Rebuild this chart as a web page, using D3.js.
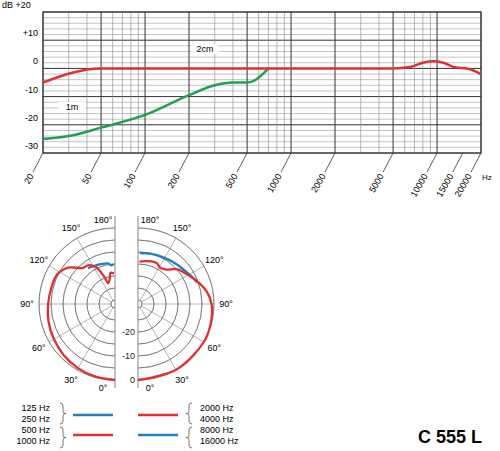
<!DOCTYPE html>
<html><head><meta charset="utf-8">
<script src="https://cdn.jsdelivr.net/npm/d3@7"></script>
<style>body{margin:0;background:#fff}svg{font-family:"Liberation Sans",Arial,sans-serif}</style>
</head><body>
<script>
// Frequency response data
const freqTicks = [20, 50, 100, 200, 500, 1000, 2000, 5000, 10000, 15000, 20000];
const dbTicks = [20, 10, 0, -10, -20, -30];
const near2cm = [[20, -5], [50, 0], [5000, 0], [6500, 0.5], [8000, 2], [9500, 2.5], [11000, 2], [13500, 0.3], [16000, 0], [20000, -2]];
const far1m = [[20, -25], [30, -24], [50, -21], [100, -16.5], [200, -9.5], [300, -6], [400, -5], [500, -5], [560, -4.3], [700, 0]];

// Polar data: [angle deg, dB]
const leftRed = [[0, 0], [15, -0.3], [30, -0.8], [45, -1.5], [60, -2.3], [75, -3], [90, -3.8], [105, -4.3], [117, -4.6], [128, -7], [138, -11.5], [145, -12], [152, -14], [158, -19], [162, -22.5], [168, -21], [172, -18.5], [178, -19]];
const leftBlue = [[143, -13], [150, -13.5], [160, -14], [170, -14.5], [175, -15.5], [178, -15]];
const rightRed = [[0, 0], [30, 0], [60, 0], [75, -0.3], [90, -1], [100, -2.5], [110, -5], [120, -7.5], [132, -10], [140, -13], [148, -14], [155, -13], [162, -13], [170, -13.5], [178, -14]];
const rightBlue = [[110, -5.4], [120, -7], [135, -8.5], [150, -9.5], [165, -10], [178, -10.4]];
const angleLabels = [0, 30, 60, 90, 120, 150, 180];
const ringLabels = [0, -10, -20];

const RED = "#e03030", GREEN = "#20a050", BLUE = "#2080c0";
const svg = d3.select("body").append("svg").attr("width", 500).attr("height", 451);

// ---- Frequency response ----
const x = d3.scaleLog().domain([20, 20000]).range([43, 481]);
const y = d3.scaleLinear().domain([-30, 20]).range([153, 12]);
const g = svg.append("g");

d3.range(-30, 21, 2).forEach(v => {
  g.append("line").attr("x1", 43).attr("x2", 481).attr("y1", y(v)).attr("y2", y(v))
    .attr("stroke", v % 10 === 0 ? "#333" : "#888").attr("stroke-width", v % 10 === 0 ? 1 : 0.5);
});
const minor = [];
[10, 100, 1000, 10000].forEach(d => d3.range(1, 10).forEach(k => { const f = k * d; if (f >= 20 && f <= 20000) minor.push(f); }));
minor.forEach(f => {
  const major = freqTicks.includes(f);
  g.append("line").attr("x1", x(f)).attr("x2", x(f)).attr("y1", 12).attr("y2", 153)
    .attr("stroke", major ? "#333" : "#888").attr("stroke-width", major ? 1 : 0.6);
});
g.append("rect").attr("x", 43).attr("y", 12).attr("width", 438).attr("height", 141)
  .attr("fill", "none").attr("stroke", "#333");

dbTicks.forEach(v => {
  if (v === 20) return;
  g.append("text").attr("x", 38).attr("y", y(v) - 4).attr("text-anchor", "end")
    .attr("font-size", 9).text(v > 0 ? "+" + v : v);
});
g.append("text").attr("x", 2).attr("y", 8).attr("font-size", 9).text("dB  +20");

freqTicks.forEach(f => {
  const px = x(f);
  g.append("line").attr("x1", px).attr("y1", 153).attr("x2", px - 10).attr("y2", 172)
    .attr("stroke", "#333").attr("stroke-width", 0.8);
  g.append("text").attr("transform", `translate(${px - 9},${176}) rotate(-60)`)
    .attr("text-anchor", "end").attr("font-size", 9).text(f);
});
g.append("text").attr("x", 482).attr("y", 180).attr("font-size", 8).text("Hz");

const fline = d3.line().x(d => x(d[0])).y(d => y(d[1])).curve(d3.curveMonotoneX);
g.append("path").datum(far1m).attr("d", fline).attr("fill", "none").attr("stroke", GREEN).attr("stroke-width", 2.5);
g.append("path").datum(near2cm).attr("d", fline).attr("fill", "none").attr("stroke", RED).attr("stroke-width", 2.5);

[["2cm", 205, 52], ["1m", 72, 110]].forEach(([t, tx, ty]) => {
  g.append("rect").attr("x", tx - 14).attr("y", ty - 8).attr("width", 28).attr("height", 10).attr("fill", "#fff");
  g.append("text").attr("x", tx).attr("y", ty).attr("text-anchor", "middle").attr("font-size", 9).text(t);
});

// ---- Polar ----
const cy = 304;
const r = d3.scaleLinear().domain([-30, 0]).range([4, 76]);
function half(cx, side, curves) {
  const p = svg.append("g").attr("transform", `translate(${cx},${cy})`);
  const ang = deg => side < 0 ? Math.PI + deg * Math.PI / 180 : Math.PI - deg * Math.PI / 180;
  const arc = d3.arc().startAngle(side < 0 ? Math.PI : 0).endAngle(side < 0 ? 2 * Math.PI : Math.PI);
  d3.range(-30, 1, 5).forEach(v => {
    p.append("path").attr("d", arc({ innerRadius: r(v), outerRadius: r(v) }))
      .attr("fill", "none").attr("stroke", "#555").attr("stroke-width", 0.5);
  });
  d3.range(30, 151, 30).forEach(a => {
    const t = ang(a);
    p.append("line").attr("x1", Math.sin(t) * r(-30)).attr("y1", -Math.cos(t) * r(-30))
      .attr("x2", Math.sin(t) * r(0)).attr("y2", -Math.cos(t) * r(0))
      .attr("stroke", "#666").attr("stroke-width", 0.5);
  });
  p.append("line").attr("x1", 0).attr("x2", 0).attr("y1", -88).attr("y2", 84).attr("stroke", "#999").attr("stroke-width", 1.2);
  angleLabels.forEach(a => {
    const t = ang(a), rr = a === 0 || a === 180 ? 84 : 88;
    let lx = Math.sin(t) * rr, ly = -Math.cos(t) * rr + 3;
    if (a === 0 || a === 180) lx = side * 12;
    if (a === 180) ly = -81;
    if (a === 0) ly = 87;
    p.append("text").attr("x", lx).attr("y", ly).attr("text-anchor", "middle").attr("font-size", 9).text(a + "°");
  });
  curves.forEach(([data, color]) => {
    const lr = d3.lineRadial().angle(d => ang(d[0])).radius(d => r(d[1])).curve(d3.curveCatmullRom);
    p.append("path").datum(data).attr("d", lr).attr("fill", "none").attr("stroke", color).attr("stroke-width", 2.3);
  });
  return p;
}
half(115, -1, [[leftBlue, BLUE], [leftRed, RED]]);
const rp = half(138, 1, [[rightBlue, BLUE], [rightRed, RED]]);
ringLabels.forEach(v => {
  rp.append("text").attr("x", -3).attr("y", r(v) + 3).attr("text-anchor", "end").attr("font-size", 9)
    .attr("fill", "#222").text(v);
});

// ---- Legend ----
const legLeft = ["125 Hz", "250 Hz", "500 Hz", "1000 Hz"];
const legRight = ["2000 Hz", "4000 Hz", "8000 Hz", "16000 Hz"];
const rowsY = [411, 422, 433, 444];
legLeft.forEach((t, i) => svg.append("text").attr("x", 50).attr("y", rowsY[i]).attr("text-anchor", "end").attr("font-size", 9).text(t));
legRight.forEach((t, i) => svg.append("text").attr("x", 200).attr("y", rowsY[i]).attr("font-size", 9).text(t));
function brace(bx, y0, y1, dir) {
  const m = (y0 + y1) / 2;
  svg.append("path").attr("d", `M${bx},${y0} q${dir * 3},0 ${dir * 3},3 L${bx + dir * 3},${m - 2} q0,2 ${dir * 3},2 q${-dir * 3},0 ${-dir * 3},2 L${bx + dir * 3},${y1 - 3} q0,3 ${-dir * 3},3`)
    .attr("fill", "none").attr("stroke", "#555").attr("stroke-width", 0.8);
}
brace(60, 403, 424, 1); brace(60, 427, 448, 1);
brace(192, 403, 424, -1); brace(192, 427, 448, -1);
[[73, 415, BLUE], [73, 435, RED], [138, 415, RED], [138, 435, BLUE]].forEach(([lx, ly, c]) => {
  svg.append("line").attr("x1", lx).attr("x2", lx + 40).attr("y1", ly).attr("y2", ly).attr("stroke", c).attr("stroke-width", 2.5);
});
svg.append("text").attr("x", 482).attr("y", 443).attr("text-anchor", "end").attr("font-size", 18)
  .attr("font-weight", "bold").text("C 555 L");
</script>
</body></html>
